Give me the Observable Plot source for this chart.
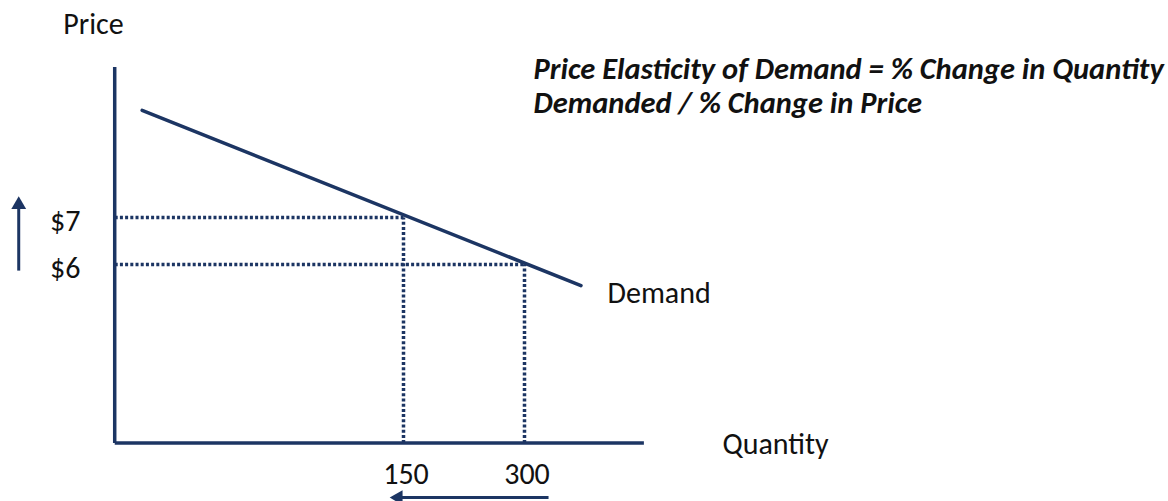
<!DOCTYPE html>
<html>
<head>
<meta charset="utf-8">
<script src="https://cdn.jsdelivr.net/npm/d3@7"></script>
<script src="https://cdn.jsdelivr.net/npm/@observablehq/plot@0.6"></script>
<style>
  html, body { margin: 0; padding: 0; background: #fff; }
  #chart svg { display: block; font-family: Carlito, Calibri, Lato, sans-serif; }
</style>
</head>
<body>
<div id="chart"></div>
<script>
// ---- data ----
const priceTicks = [7, 6];
const priceTickLabels = ["$7", "$6"];
const quantityTicks = [150, 300];
const quantityTickLabels = ["150", "300"];
const demandQuantity = [-174, 370];
const demandPrice = [9.28, 5.55];
const axisQuantityRange = [-208, 448];
const axisPriceRange = [2.2, 10.2];
const titleLines = ["Price Elasticity of Demand = % Change in Quantity", "Demanded / % Change in Price"];
const yAxisLabel = "Price";
const xAxisLabel = "Quantity";
const curveLabel = "Demand";

const navy = "#1c3563";
const ink = "#111";

const [q0, q1] = axisQuantityRange;
const [p0, p1] = axisPriceRange;

const axes = [
  {x1: q0, y1: p0, x2: q0, y2: p1},
  {x1: q0, y1: p0, x2: q1, y2: p0}
];
const demand = demandQuantity.map((q, i) => ({q, p: demandPrice[i]}));
// dotted guides: each price tick paired with a quantity tick
const hGuides = priceTicks.map((p, i) => ({x1: q0, x2: quantityTicks[i], y: p}));
const vGuides = quantityTicks.map((q, i) => ({x: q, y1: p0, y2: priceTicks[i]}));
const priceLabels = priceTicks.map((p, i) => ({p, label: priceTickLabels[i]}));
const qtyLabels = quantityTicks.map((q, i) => ({q, label: quantityTickLabels[i]}));

const chart = Plot.plot({
  width: 1168,
  height: 501,
  margin: 0,
  x: {type: "linear", domain: [150, 300], range: [403, 524], axis: null},
  y: {type: "linear", domain: [6, 7], range: [264, 217], axis: null},
  marks: [
    // dotted guides
    Plot.link(hGuides, {x1: "x1", x2: "x2", y1: "y", y2: "y", stroke: navy, strokeWidth: 3.5, strokeDasharray: "3,2.2"}),
    Plot.link(vGuides, {x1: "x", x2: "x", y1: "y1", y2: "y2", stroke: navy, strokeWidth: 3.5, strokeDasharray: "3,2.2"}),
    // axes
    Plot.link(axes, {x1: "x1", y1: "y1", x2: "x2", y2: "y2", stroke: navy, strokeWidth: 3.5}),
    // demand curve
    Plot.line(demand, {x: "q", y: "p", stroke: navy, strokeWidth: 3.5}),
    // tick labels
    Plot.text(priceLabels, {x: () => -250.4, y: "p", text: "label", textAnchor: "end", dy: 4, fontSize: 30, fill: ink}),
    Plot.text(qtyLabels, {x: "q", y: () => 1.53, text: "label", textAnchor: "middle", dx: 2.5, fontSize: 30, fill: ink}),
    // axis labels
    Plot.text([yAxisLabel], {x: () => -234.3, y: () => 11.11, text: d => d, textAnchor: "middle", fontSize: 30, fill: ink}),
    Plot.text([xAxisLabel], {x: () => 545.5, y: () => 2.17, text: d => d, textAnchor: "start", fontSize: 30, fill: ink}),
    Plot.text([curveLabel], {x: () => 402.9, y: () => 5.394, text: d => d, textAnchor: "start", fontSize: 30, fill: ink}),
    // title
    Plot.text(titleLines, {x: () => 311.2, y: (d, i) => [10.16, 9.43][i], text: d => d, textAnchor: "start", fontSize: 30.5, fontWeight: "bold", fontStyle: "italic", fill: ink}),
    // arrows: price rises, quantity falls
    Plot.link([{x1: -327, y1: 5.87, x2: -327, y2: 7.19}], {x1: "x1", y1: "y1", x2: "x2", y2: "y2", stroke: navy, strokeWidth: 3}),
    Plot.dot([{x: -327, y: 7.27}], {x: "x", y: "y", symbol: "triangle", r: 5.5, fill: navy, stroke: null}),
    Plot.link([{x1: 329.8, y1: 1.04, x2: 148, y2: 1.04}], {x1: "x1", y1: "y1", x2: "x2", y2: "y2", stroke: navy, strokeWidth: 3}),
    Plot.dot([{x: 143.5, y: 1.04}], {x: "x", y: "y", symbol: "triangle", r: 5.5, rotate: -90, fill: navy, stroke: null})
  ]
});
document.getElementById("chart").append(chart);
</script>
</body>
</html>
